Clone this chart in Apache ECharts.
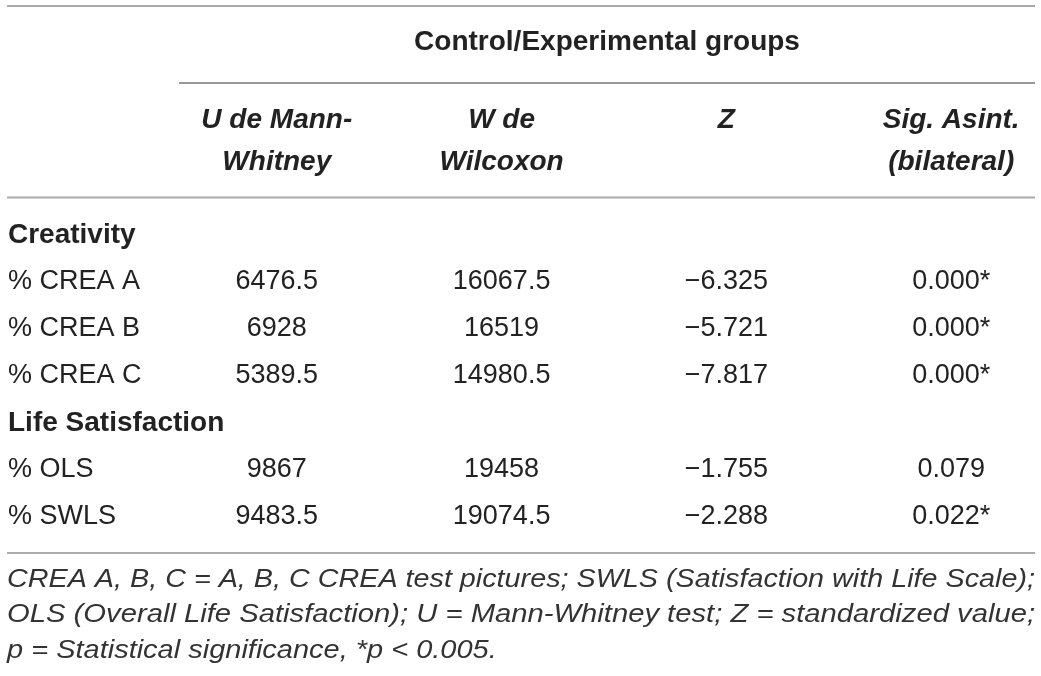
<!DOCTYPE html>
<html lang="en">
<head>
    <meta charset="UTF-8">
    <title>Mann-Whitney: control / experimental groups</title>
    <script src="https://cdn.jsdelivr.net/npm/echarts@6/dist/echarts.min.js"></script>
    <style>
        html, body { margin: 0; padding: 0; background: #fff; }
        #main { width: 1041px; height: 676px; }
    </style>
</head>
<body>
<div id="main"></div>
<script type="text/javascript">
    // table content
    var groupTitle = 'Control/Experimental groups';
    var columnHeaders = ['', 'U de Mann-\nWhitney', 'W de\nWilcoxon', 'Z', 'Sig. Asint.\n(bilateral)'];

    var sections = ['Creativity', 'Life Satisfaction'];
    var measures = [['% CREA A', '% CREA B', '% CREA C'], ['% OLS', '% SWLS']];

    var uValues = [[6476.5, 6928, 5389.5], [9867, 9483.5]];
    var wValues = [[16067.5, 16519, 14980.5], [19458, 19074.5]];
    var zValues = [[-6.325, -5.721, -7.817], [-1.755, -2.288]];
    var sigValues = [[0.000, 0.000, 0.000], [0.079, 0.022]];
    var sigStar = [[true, true, true], [false, true]];

    var footnote = [
        'CREA A, B, C = A, B, C CREA test pictures; SWLS (Satisfaction with Life Scale);',
        'OLS (Overall Life Satisfaction); U = Mann-Whitney test; Z = standardized value;',
        'p = Statistical significance, *p < 0.005.'
    ];

    // build rows / cells
    var rowNames = [];
    var cells = [];
    sections.forEach(function (sec, s) {
        var r = rowNames.length;
        rowNames.push(sec);
        cells.push({value: [0, r], text: sec, bold: true});
        measures[s].forEach(function (m, k) {
            var r = rowNames.length;
            rowNames.push(m);
            cells.push({value: [0, r], text: m});
            cells.push({value: [1, r], text: String(uValues[s][k])});
            cells.push({value: [2, r], text: String(wValues[s][k])});
            cells.push({value: [3, r], text: zValues[s][k].toFixed(3).replace('-', '\u2212')});
            cells.push({value: [4, r], text: sigValues[s][k].toFixed(3) + (sigStar[s][k] ? '*' : '')});
        });
    });

    var FONT = '"Liberation Sans", Arial, Helvetica, sans-serif';
    var ink = '#222';

    // measure footnote lines so the first two can be justified to full width
    var ctx = document.createElement('canvas').getContext('2d');
    ctx.font = 'italic 25px ' + FONT;
    var noteLeft = 7, noteRight = 1035;
    var noteScale = footnote.map(function (t) {
        return (noteRight - noteLeft) / ctx.measureText(t).width;
    });
    var lastScale = (noteScale[0] + noteScale[1]) / 2;

    var rules = [
        {x1: 7, x2: 1035, y: 6, color: '#aaa', w: 2},
        {x1: 179, x2: 1035, y: 83, color: '#777', w: 1.5},
        {x1: 7, x2: 1035, y: 197.5, color: '#aaa', w: 2},
        {x1: 7, x2: 1035, y: 553, color: '#aaa', w: 2}
    ];

    var graphics = rules.map(function (l) {
        return {
            type: 'line',
            shape: {x1: l.x1, y1: l.y, x2: l.x2, y2: l.y},
            style: {stroke: l.color, lineWidth: l.w}
        };
    });
    graphics.push({
        type: 'text',
        x: (rules[1].x1 + rules[1].x2) / 2,
        y: 42,
        style: {
            text: groupTitle, x: 0, y: 0, align: 'center', verticalAlign: 'middle',
            font: 'bold 28px ' + FONT, fill: ink
        }
    });
    footnote.forEach(function (t, i) {
        graphics.push({
            type: 'text',
            x: noteLeft,
            y: 580 + i * 35.5,
            scaleX: i < 2 ? noteScale[i] : lastScale,
            style: {
                text: t, x: 0, y: 0, align: 'left', verticalAlign: 'middle',
                font: 'italic 25px ' + FONT, fill: '#333'
            }
        });
    });

    var myChart = echarts.init(document.getElementById('main'));
    var option = {
        animation: false,
        grid: {
            left: 52, right: 89.8, top: 211.5, height: 329,
            containLabel: false, outerBoundsMode: 'none'
        },
        xAxis: {
            type: 'value', min: 0, max: 4, interval: 1, position: 'top',
            axisLine: {show: false}, axisTick: {show: false}, splitLine: {show: false},
            axisLabel: {
                show: true, showMinLabel: true, showMaxLabel: true,
                formatter: function (v) { return columnHeaders[Math.round(v)] || ''; },
                margin: 112.5, verticalAlign: 'top', align: 'center',
                lineHeight: 42, fontSize: 28, fontWeight: 'bold', fontStyle: 'italic',
                fontFamily: FONT, color: ink
            }
        },
        yAxis: {
            type: 'category', data: rowNames, inverse: true, show: false
        },
        graphic: graphics,
        series: [{
            type: 'custom',
            coordinateSystem: 'cartesian2d',
            data: cells,
            silent: true,
            renderItem: function (params, api) {
                var cell = cells[params.dataIndex];
                var col = api.value(0);
                var p = api.coord([col, api.value(1)]);
                return {
                    type: 'text',
                    x: col === 0 ? p[0] - 44 : p[0],
                    y: p[1],
                    style: {
                        text: cell.text, x: 0, y: 0,
                        align: col === 0 ? 'left' : 'center',
                        verticalAlign: 'middle',
                        font: (cell.bold ? 'bold 28px ' : '27px ') + FONT,
                        fill: ink
                    }
                };
            }
        }]
    };
    myChart.setOption(option);
</script>
</body>
</html>
